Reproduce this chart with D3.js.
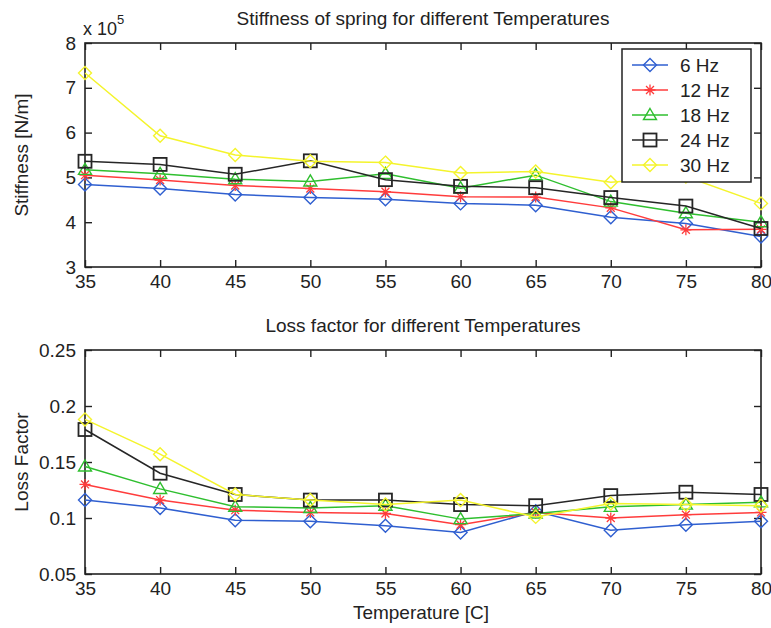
<!DOCTYPE html>
<html><head><meta charset="utf-8">
<script src="https://cdn.jsdelivr.net/npm/d3@7"></script>
<style>
html,body{margin:0;padding:0;background:#fff;}
svg{display:block;}
text{font-family:"Liberation Sans",Arial,Helvetica,sans-serif;fill:#222;}
</style></head>
<body>
<script>
// ---------- data ----------
const temps = [35, 40, 45, 50, 55, 60, 65, 70, 75, 80];
const seriesNames = ["6 Hz", "12 Hz", "18 Hz", "24 Hz", "30 Hz"];
// stiffness (x 10^5 N/m)
const stiff6  = [4.84, 4.75, 4.62, 4.55, 4.51, 4.42, 4.38, 4.11, 3.97, 3.68];
const stiff12 = [5.05, 4.94, 4.82, 4.75, 4.68, 4.57, 4.56, 4.32, 3.83, 3.84];
const stiff18 = [5.17, 5.08, 4.96, 4.91, 5.08, 4.76, 5.05, 4.46, 4.20, 4.00];
const stiff24 = [5.36, 5.29, 5.07, 5.37, 4.95, 4.80, 4.77, 4.55, 4.36, 3.86];
const stiff30 = [7.33, 5.93, 5.50, 5.36, 5.33, 5.10, 5.13, 4.89, 5.02, 4.42];
// loss factor
const loss6  = [0.116, 0.109, 0.098, 0.097, 0.093, 0.087, 0.106, 0.089, 0.094, 0.097];
const loss12 = [0.130, 0.116, 0.107, 0.105, 0.104, 0.094, 0.105, 0.100, 0.103, 0.105];
const loss18 = [0.146, 0.126, 0.110, 0.109, 0.111, 0.099, 0.104, 0.110, 0.112, 0.114];
const loss24 = [0.179, 0.140, 0.121, 0.116, 0.116, 0.112, 0.111, 0.120, 0.123, 0.121];
const loss30 = [0.188, 0.157, 0.121, 0.116, 0.112, 0.116, 0.101, 0.113, 0.112, 0.111];
// ticks
const xTicks = [35, 40, 45, 50, 55, 60, 65, 70, 75, 80];
const stiffTicks = [3, 4, 5, 6, 7, 8];
const lossTicks = [0.05, 0.1, 0.15, 0.2, 0.25];
const lossTickLabels = ["0.05", "0.1", "0.15", "0.2", "0.25"];

const colors = ["#2f5fd0", "#ff3c3c", "#2fbf2f", "#262626", "#f4f42c"];
const markers = ["diamond", "star", "triangle", "square", "diamond"];

// ---------- layout ----------
const W = 771, H = 628;
const left = 85, right = 761;
const top1 = 43, bot1 = 267;
const top2 = 350, bot2 = 574;
const FS = 19;

const svg = d3.select("body").append("svg").attr("width", W).attr("height", H);

const x = d3.scaleLinear().domain([35, 80]).range([left, right]);
const y1 = d3.scaleLinear().domain([3, 8]).range([bot1, top1]);
const y2 = d3.scaleLinear().domain([0.05, 0.25]).range([bot2, top2]);

function marker(g, type, cx, cy, color) {
  const s = 6.5;
  if (type === "diamond") {
    g.append("path").attr("d", `M${cx},${cy - s}L${cx + s},${cy}L${cx},${cy + s}L${cx - s},${cy}Z`)
      .attr("fill", "none").attr("stroke", color).attr("stroke-width", 1.4);
  } else if (type === "square") {
    g.append("rect").attr("x", cx - s).attr("y", cy - s).attr("width", 2 * s).attr("height", 2 * s)
      .attr("fill", "none").attr("stroke", color).attr("stroke-width", 1.8);
  } else if (type === "triangle") {
    g.append("path").attr("d", `M${cx},${cy - s}L${cx + s},${cy + s * 0.7}L${cx - s},${cy + s * 0.7}Z`)
      .attr("fill", "none").attr("stroke", color).attr("stroke-width", 1.4);
  } else if (type === "star") {
    const r = 5.5, d = r * 0.72;
    g.append("path").attr("d",
      `M${cx - r},${cy}L${cx + r},${cy}M${cx},${cy - r}L${cx},${cy + r}` +
      `M${cx - d},${cy - d}L${cx + d},${cy + d}M${cx - d},${cy + d}L${cx + d},${cy - d}`)
      .attr("fill", "none").attr("stroke", color).attr("stroke-width", 1.3);
  }
}

function panel(y, top, bot, data, yTicks, yLabels, title, ylabel) {
  const g = svg.append("g");
  g.append("rect").attr("x", left).attr("y", top).attr("width", right - left).attr("height", bot - top)
    .attr("fill", "#fff");
  const ax = g.append("g").attr("transform", `translate(0,${bot})`)
    .call(d3.axisBottom(x).tickValues(xTicks).tickSizeInner(-7).tickSizeOuter(0).tickPadding(11));
  const axT = g.append("g").attr("transform", `translate(0,${top})`)
    .call(d3.axisTop(x).tickValues(xTicks).tickSizeInner(-7).tickSizeOuter(0).tickFormat(""));
  const ay = g.append("g").attr("transform", `translate(${left},0)`)
    .call(d3.axisLeft(y).tickValues(yTicks).tickSizeInner(-7).tickSizeOuter(0).tickPadding(9)
      .tickFormat((d, i) => yLabels[i]));
  const ayR = g.append("g").attr("transform", `translate(${right},0)`)
    .call(d3.axisRight(y).tickValues(yTicks).tickSizeInner(-7).tickSizeOuter(0).tickFormat(""));
  [ax, axT, ay, ayR].forEach(a => {
    a.select(".domain").remove();
    a.selectAll("line").attr("stroke", "#222").attr("stroke-width", 1.4);
    a.selectAll("text").attr("font-size", FS).attr("fill", "#222")
      .style("font-family", '"Liberation Sans",Arial,sans-serif');
  });
  ax.selectAll("text").attr("dy", "0.55em");
  g.append("rect").attr("x", left).attr("y", top).attr("width", right - left).attr("height", bot - top)
    .attr("fill", "none").attr("stroke", "#222").attr("stroke-width", 1.6);

  const line = d3.line().x((d, i) => x(temps[i])).y(d => y(d));
  data.forEach((vals, k) => {
    const sg = g.append("g");
    sg.append("path").attr("d", line(vals)).attr("fill", "none")
      .attr("stroke", colors[k]).attr("stroke-width", 1.5);
    vals.forEach((v, i) => marker(sg, markers[k], x(temps[i]), y(v), colors[k]));
  });

  svg.append("text").attr("x", (left + right) / 2).attr("y", top - 18)
    .attr("text-anchor", "middle").attr("font-size", FS).text(title);
  svg.append("text").attr("transform", `translate(28,${(top + bot) / 2}) rotate(-90)`)
    .attr("text-anchor", "middle").attr("font-size", FS).text(ylabel);
  return g;
}

panel(y1, top1, bot1, [stiff6, stiff12, stiff18, stiff24, stiff30],
  stiffTicks, stiffTicks.map(String), "Stiffness of spring for different Temperatures", "Stiffness [N/m]");
panel(y2, top2, bot2, [loss6, loss12, loss18, loss24, loss30],
  lossTicks, lossTickLabels, "Loss factor for different Temperatures", "Loss Factor");

const ex = svg.append("text").attr("x", 83).attr("y", 35).attr("font-size", 18);
ex.append("tspan").text("x 10");
ex.append("tspan").attr("dy", -11).attr("font-size", 13).text("5");

svg.append("text").attr("x", (left + right) / 2 - 2).attr("y", 619)
  .attr("text-anchor", "middle").attr("font-size", FS).text("Temperature [C]");

const lg = svg.append("g");
const lx = 622, ly = 49, lw = 129, lh = 133;
lg.append("rect").attr("x", lx).attr("y", ly).attr("width", lw).attr("height", lh)
  .attr("fill", "#fff").attr("stroke", "#222").attr("stroke-width", 1.5);
seriesNames.forEach((name, k) => {
  const yy = ly + 16 + k * 25;
  lg.append("line").attr("x1", lx + 10).attr("x2", lx + 46).attr("y1", yy).attr("y2", yy)
    .attr("stroke", colors[k]).attr("stroke-width", 1.5);
  marker(lg, markers[k], lx + 28, yy, colors[k]);
  lg.append("text").attr("x", lx + 58).attr("y", yy).attr("dy", "0.36em")
    .attr("font-size", FS).text(name);
});
</script>
</body></html>
